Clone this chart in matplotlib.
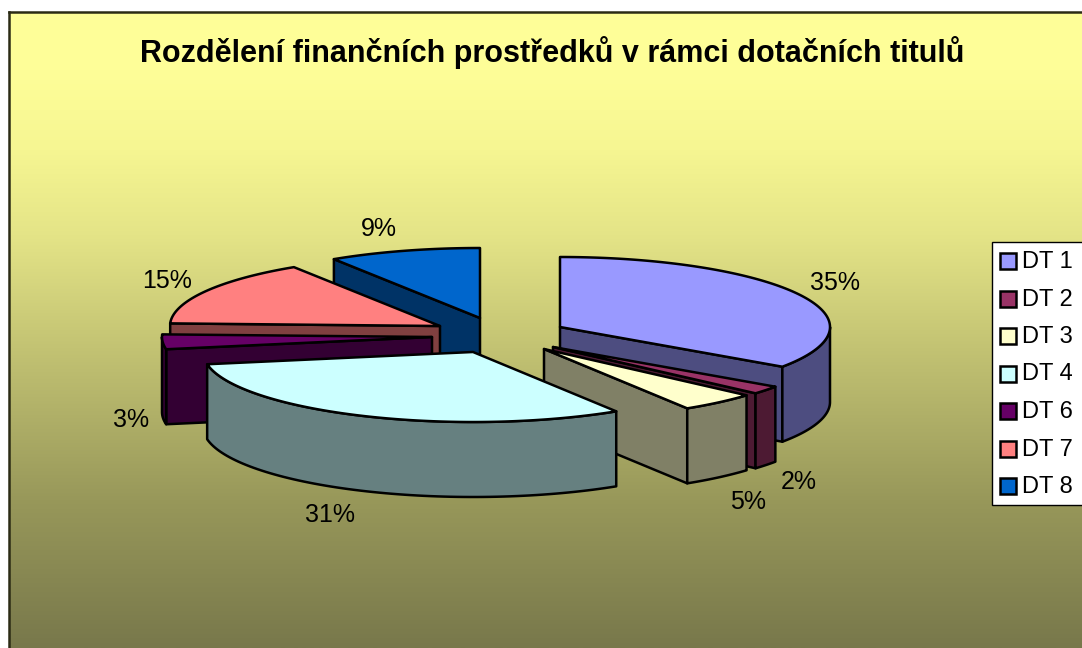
import numpy as np
import matplotlib
matplotlib.use("Agg")
import matplotlib.pyplot as plt
from matplotlib.patches import Polygon, Rectangle

title = "Rozdělení finančních prostředků v rámci dotačních titulů"
labels = ["DT 1", "DT 2", "DT 3", "DT 4", "DT 6", "DT 7", "DT 8"]
shares = [34.6, 1.9, 4.6, 31.1, 3.4, 15.3, 9.1]

top_colors = ["#9999FF", "#993366", "#FFFFCC", "#CCFFFF", "#660066", "#FF8080", "#0066CC"]
side_colors = ["#4D4D80", "#4D1A33", "#808066", "#668080", "#330033", "#804040", "#003366"]

# apex of each exploded slice, in pixels
apex_x = [560, 553, 544, 473, 432, 440, 480]
apex_y = [327, 347, 349, 352, 337, 326, 318]
label_x = [835, 799, 748, 330, 131, 167, 379]
label_y = [283, 482, 502, 515, 420, 281, 229]
draw_order = [6, 5, 4, 0, 1, 2, 3]

RX, RY, DEPTH = 270, 70, 75
LW = 1.8

plt.rcParams["font.family"] = ["Liberation Sans", "DejaVu Sans"]

fig = plt.figure(figsize=(10.82, 6.48), dpi=100)
ax = fig.add_axes([0, 0, 1, 1])
ax.set_xlim(0, 1082)
ax.set_ylim(648, 0)
ax.axis("off")

# background gradient of the chart area
rows = np.arange(12, 649)
red = np.interp(rows, [12, 70, 150, 235, 330, 500, 648], [255, 254, 246, 228, 200, 152, 120])
blue = np.interp(rows, [12, 70, 150, 235, 330, 500, 648], [153, 152, 146, 135, 118, 90, 75])
grad = np.stack([red, red, blue], axis=1)[:, None, :] / 255
ax.imshow(grad, extent=[9, 1082, 648, 12], aspect="auto", zorder=0)
ax.set_xlim(0, 1082)
ax.set_ylim(648, 0)
ax.plot([9, 9], [648, 12], color="#2b2b14", lw=LW, zorder=1)
ax.plot([9, 1082], [12, 12], color="#2b2b14", lw=LW, zorder=1)


def rim(cx, cy, theta):
    return cx + RX * np.sin(theta), cy - RY * np.cos(theta)


def face(xs, ys, color, z):
    ax.add_patch(Polygon(np.column_stack([xs, ys]), closed=True, facecolor=color,
                         edgecolor="black", lw=LW, joinstyle="round", zorder=z))


edges = np.radians(np.concatenate([[0], np.cumsum(shares)]) * 3.6)

z = 2
for i in draw_order:
    cx, cy = apex_x[i], apex_y[i]
    t0, t1 = edges[i], edges[i + 1]
    side = side_colors[i]

    # radial walls that face the viewer
    for t, visible in [(t0, np.sin(t0) < -1e-6), (t1, np.sin(t1) > 1e-6)]:
        if visible:
            x, y = rim(cx, cy, t)
            face([cx, x, x, cx], [cy, y, y + DEPTH, cy + DEPTH], side, z)
            z += 1

    # curved outer wall, front half only
    a, b = max(t0, np.pi / 2), min(t1, 3 * np.pi / 2)
    if b > a:
        t = np.linspace(a, b, 80)
        x, y = rim(cx, cy, t)
        face(np.r_[x, x[::-1]], np.r_[y, y[::-1] + DEPTH], side, z)
        z += 1

    # top of the slice
    t = np.linspace(t0, t1, 120)
    x, y = rim(cx, cy, t)
    face(np.r_[cx, x], np.r_[cy, y], top_colors[i], z)
    z += 1

for i, share in enumerate(shares):
    ax.text(label_x[i], label_y[i], f"{round(share)}%", fontsize=18, color="black",
            ha="center", va="center", zorder=50)

ax.text(552, 53, title, fontsize=22, fontweight="bold", color="black",
        ha="center", va="center", zorder=50)

# legend box, runs off the right side of the picture
ax.add_patch(Rectangle((992, 241.5), 110, 263.5, facecolor="white", edgecolor="black",
                       lw=1, zorder=40))
for i, name in enumerate(labels):
    y = 261 + i * 37.5
    ax.add_patch(Rectangle((999.5, y - 8), 16, 16, facecolor=top_colors[i], edgecolor="black",
                           lw=LW, zorder=41))
    ax.text(1022, y + 1, name, fontsize=17, color="black", ha="left", va="center", zorder=42)

fig.savefig("out.png", dpi=100)
